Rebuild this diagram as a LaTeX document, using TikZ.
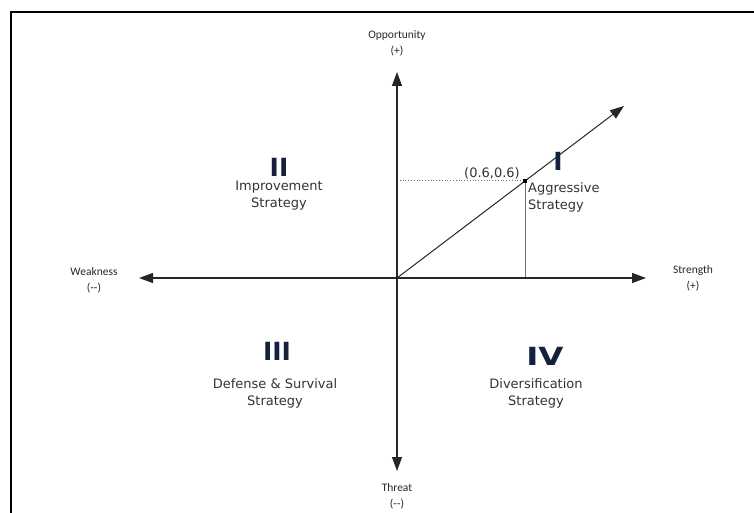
\documentclass[tikz,border=0pt]{standalone}
\usepackage{fontspec}
\setmainfont{DejaVu Sans}
\newfontfamily\axisfont{Carlito}
\newfontfamily\quadfont{DejaVu Sans}
\usetikzlibrary{arrows.meta}
\definecolor{navy}{HTML}{14213D}
\definecolor{txt}{HTML}{333333}
\tikzset{
  axis/.style={draw=black!85, line width=1.2pt, -{Triangle[length=14pt,width=10pt]}},
  diag/.style={draw=black!85, line width=1pt, -{Triangle[length=14pt,width=10pt]}},
  axlabel/.style={inner sep=0pt, align=center, font=\axisfont\fontsize{11.5}{16}\selectfont, text=black!85},
  quadtext/.style={inner sep=0pt, align=center, font=\quadfont\fontsize{13}{17}\selectfont, text=txt},
  numeral/.style={inner sep=0pt, font=\quadfont\bfseries\fontsize{25}{25}\selectfont, text=navy},
  guide/.style={draw=black!55, line width=0.8pt},
  frame/.style={draw=black, line width=2pt}
}
\begin{document}
\begin{tikzpicture}[x=1pt,y=-1pt]
\useasboundingbox (0,0) rectangle (754,513);
% frame
\draw[frame] (11,520) -- (11,12.5) -- (760,12.5);
% coordinates
\coordinate (O) at (397,278);
\coordinate (top) at (397,72);
\coordinate (bot) at (397,471);
\coordinate (left) at (139,278);
\coordinate (right) at (646,278);
\coordinate (dtip) at (624,106);
\coordinate (P) at (525,180.5);
\coordinate (Py) at (397,180.5);
\coordinate (Px) at (525,278);
% guides
\draw[guide, dotted] (Py) -- (P);
\draw[guide] (P) -- (Px);
% axes
\draw[axis] (O) -- (top);
\draw[axis] (O) -- (bot);
\draw[axis] (O) -- (left);
\draw[axis] (O) -- (right);
\draw[diag] (O) -- (dtip);
\node[fill=black, minimum size=4pt, inner sep=0pt] (pt) at (P) {};
% axis labels
\node[axlabel] (opp) at (397,43) {Opportunity\\(+)};
\node[axlabel] (thr) at (397,496) {Threat\\(--)};
\node[axlabel] (weak) at (94,280) {Weakness\\(--)};
\node[axlabel] (str) at (693,278) {Strength\\(+)};
% point label
\node[quadtext, anchor=east] (plab) at (520,173) {(0.6,0.6)};
% quadrants
\node[numeral] (q1) at (558,161) {I};
\node[quadtext, anchor=west, align=left] (q1t) at (528,197) {Aggressive\\Strategy};
\node[numeral] (q2) at (279,167) {II};
\node[quadtext] (q2t) at (279,196) {Improvement\\Strategy};
\node[numeral] (q3) at (277,351) {III};
\node[quadtext] (q3t) at (275,393) {Defense \& Survival\\Strategy};
\node[numeral] (q4) at (545,356) {\scalebox{1.3}[1]{IV}};
\node[quadtext] (q4t) at (536,393) {Diversification\\Strategy};
\end{tikzpicture}
\end{document}
